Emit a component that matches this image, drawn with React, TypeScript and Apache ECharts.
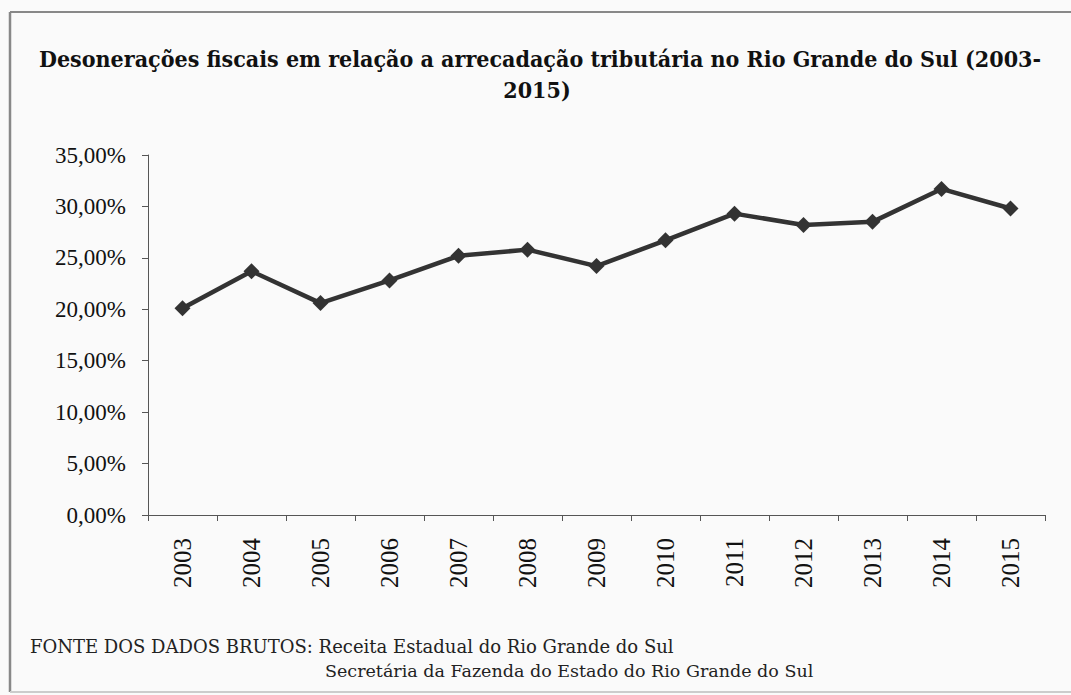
import React, { useEffect, useRef } from "react";
import * as echarts from "echarts";

const years = ["2003","2004","2005","2006","2007","2008","2009","2010","2011","2012","2013","2014","2015"];
const ratios = [20.1, 23.7, 20.6, 22.8, 25.2, 25.8, 24.2, 26.7, 29.3, 28.2, 28.5, 31.7, 29.8];
const titleLine1 = "Desonerações fiscais em relação a arrecadação tributária no Rio Grande do Sul (2003-";
const titleLine2 = "2015)";
const sourceLine1 = "FONTE DOS DADOS BRUTOS: Receita Estadual do Rio Grande do Sul";
const sourceLine2 = "Secretária da Fazenda do Estado do Rio Grande do Sul";

const serif = "Liberation Serif";
const titleFont = "DejaVu Serif Condensed, DejaVu Serif, serif";
const slab = "DejaVu Serif";

export default function App() {
  const ref = useRef<HTMLDivElement>(null);
  useEffect(() => {
    if (!ref.current) return;
    const chart = echarts.init(ref.current, null, { renderer: "svg" });
    chart.setOption({
      animation: false,
      backgroundColor: "#fafafa",
      grid: { left: 148, right: 26, top: 155, bottom: 180, containLabel: false },
      xAxis: {
        type: "category",
        data: years,
        boundaryGap: true,
        axisLine: { lineStyle: { color: "#555", width: 1 } },
        axisTick: { show: true, length: 6, lineStyle: { color: "#555" } },
        axisLabel: { rotate: 90, fontFamily: serif, fontSize: 25, color: "#111", margin: 23 },
      },
      yAxis: {
        type: "value",
        min: 0,
        max: 35,
        interval: 5,
        axisLine: { show: true, lineStyle: { color: "#555", width: 1 } },
        axisTick: { show: true, length: 6, lineStyle: { color: "#555" } },
        splitLine: { show: false },
        axisLabel: {
          fontFamily: serif,
          fontSize: 23,
          color: "#111",
          margin: 22,
          formatter: (v: number) => v.toFixed(2).replace(".", ",") + "%",
        },
      },
      series: [
        {
          type: "line",
          data: ratios,
          symbol: "diamond",
          symbolSize: 16,
          lineStyle: { color: "#333", width: 4.5 },
          itemStyle: { color: "#333" },
        },
      ],
      graphic: [
        { type: "line", shape: { x1: 10, y1: 12, x2: 1071, y2: 12 }, style: { stroke: "#888", lineWidth: 2 } },
        { type: "line", shape: { x1: 10, y1: 12, x2: 10, y2: 692 }, style: { stroke: "#888", lineWidth: 2.5 } },
        { type: "line", shape: { x1: 10, y1: 692, x2: 1071, y2: 692 }, style: { stroke: "#ccc", lineWidth: 2 } },
        {
          type: "text",
          x: 540,
          y: 58,
          style: { text: titleLine1, fontFamily: titleFont, fontWeight: "bold", fontSize: 23, fill: "#111", align: "center", verticalAlign: "middle" },
        },
        {
          type: "text",
          x: 537,
          y: 89,
          style: { text: titleLine2, fontFamily: titleFont, fontWeight: "bold", fontSize: 23, fill: "#111", align: "center", verticalAlign: "middle" },
        },
        {
          type: "text",
          x: 30,
          y: 646,
          style: { text: sourceLine1, fontFamily: slab, fontSize: 18, fill: "#222", verticalAlign: "middle" },
        },
        {
          type: "text",
          x: 325,
          y: 671,
          style: { text: sourceLine2, fontFamily: slab, fontSize: 17.5, fill: "#222", verticalAlign: "middle" },
        },
      ],
    });
    return () => chart.dispose();
  }, []);
  return (
    <div
      ref={ref}
      style={{ position: "fixed", left: 0, top: 0, width: 1071, height: 695 }}
    />
  );
}
